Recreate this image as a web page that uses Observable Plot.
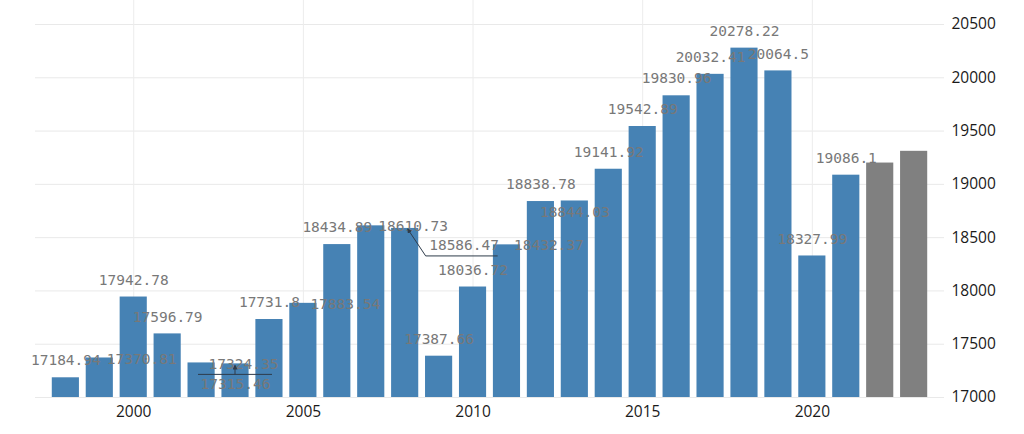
<!DOCTYPE html>
<html>
<head>
<meta charset="utf-8">
<script src="https://cdn.jsdelivr.net/npm/d3@7"></script>
<script src="https://cdn.jsdelivr.net/npm/@observablehq/plot@0.6"></script>
<style>
  html, body { margin: 0; padding: 0; background: #fff; }
  #chart svg { display: block; }
</style>
</head>
<body>
<div id="chart"></div>
<script>
const years = [1998, 1999, 2000, 2001, 2002, 2003, 2004, 2005, 2006, 2007, 2008, 2009, 2010,
  2011, 2012, 2013, 2014, 2015, 2016, 2017, 2018, 2019, 2020, 2021, 2022, 2023];
const values = [17184.94, 17370.81, 17942.78, 17596.79, 17324.35, 17315.46, 17731.8, 17883.54,
  18434.89, 18610.73, 18586.47, 17387.66, 18036.72, 18432.37, 18838.78, 18844.03, 19141.92,
  19542.89, 19830.96, 20032.41, 20278.22, 20064.5, 18327.99, 19086.1, 19200, 19310];
const forecast = [false, false, false, false, false, false, false, false, false, false, false,
  false, false, false, false, false, false, false, false, false, false, false, false, false, true, true];
// how each value label is laid out relative to its bar (as in the reference)
const labelPlacement = ["above", "right", "above", "above", "right", "under", "above", "right",
  "above", "right", "leader", "above", "above", "right", "above", "below", "above",
  "above", "above", "above", "above", "above", "above", "above", null, null];
const yTicks = [17000, 17500, 18000, 18500, 19000, 19500, 20000, 20500];
const xTickYears = [2000, 2005, 2010, 2015, 2020];

const data = years.map((y, i) => ({year: y, value: values[i], forecast: forecast[i], place: labelPlacement[i]}));
const labeled = data.filter(d => !d.forecast);
const yMin = yTicks[0];
const yMax = yTicks[yTicks.length - 1];

const labelFont = {fill: "#787878", fontSize: 14.5, fontFamily: "'DejaVu Sans Mono', monospace"};
const fmt = d => String(d.value);

const chart = Plot.plot({
  width: 1024,
  height: 434,
  marginTop: 24,
  marginBottom: 37,
  marginLeft: 45,
  marginRight: 90,
  style: {fontFamily: "'Open Sans', sans-serif", background: "#fff"},
  x: {type: "band", domain: years, padding: 0.2, round: false, label: null},
  y: {domain: [yMin, yMax], label: null},
  marks: [
    Plot.ruleY(yTicks, {stroke: "#e9e9e9", strokeWidth: 1, insetLeft: -10, insetRight: -10}),
    Plot.ruleX(xTickYears, {stroke: "#ececec", strokeWidth: 1, insetTop: -24}),
    Plot.barY(data, {
      x: "year",
      y1: () => yMin,
      y2: "value",
      fill: d => d.forecast ? "#808080" : "#4682b4"
    }),
    Plot.text(labeled.filter(d => d.place === "above"), {
      x: "year", y: "value", text: fmt, dy: -17, ...labelFont
    }),
    Plot.text(labeled.filter(d => d.place === "right"), {
      x: "year", y: "value", text: fmt, dx: 7, dy: 1, textAnchor: "start", ...labelFont
    }),
    Plot.text(labeled.filter(d => d.place === "below"), {
      x: "year", y: "value", text: fmt, dy: 11, ...labelFont
    }),
    Plot.text(labeled.filter(d => d.place === "under"), {
      x: "year", y: "value", text: fmt, dy: 20, ...labelFont
    }),
    Plot.text(labeled.filter(d => d.place === "leader"), {
      x: "year", y: "value", text: fmt, dx: 24, dy: 17, textAnchor: "start", ...labelFont
    }),
    Plot.axisY({
      ticks: yTicks,
      anchor: "right",
      tickSize: 0,
      tickPadding: 17,
      textAnchor: "start",
      fontSize: 15.5,
      fill: "#1a1a1a",
      label: null,
      tickFormat: d => String(d)
    }),
    Plot.axisX({
      ticks: xTickYears,
      anchor: "bottom",
      tickSize: 0,
      tickPadding: 8,
      fontSize: 15.5,
      fill: "#1a1a1a",
      label: null,
      tickFormat: d => String(d)
    })
  ]
});

// leader lines for the displaced labels, positioned through Plot's own scales
const sx = chart.scale("x");
const sy = chart.scale("y");
const svg = d3.select(chart);
const leaderColor = "#2e3b4a";
svg.append("defs").append("marker")
  .attr("id", "lead-arrow").attr("viewBox", "0 0 6 6").attr("refX", 5).attr("refY", 3)
  .attr("markerWidth", 5).attr("markerHeight", 5).attr("orient", "auto")
  .append("path").attr("d", "M0,0L6,3L0,6Z").attr("fill", leaderColor);
const g = svg.append("g").attr("fill", "none").attr("stroke", leaderColor).attr("stroke-width", 1);
for (const d of labeled) {
  const cx = sx.apply(d.year) + sx.bandwidth / 2;
  const top = sy.apply(d.value);
  if (d.place === "under") {
    g.append("line").attr("x1", cx - 37).attr("x2", cx + 37).attr("y1", top + 11).attr("y2", top + 11);
    g.append("line").attr("x1", cx).attr("x2", cx).attr("y1", top + 11).attr("y2", top + 2)
      .attr("marker-end", "url(#lead-arrow)");
  } else if (d.place === "leader") {
    g.append("path").attr("d", `M${cx + 93},${top + 28}L${cx + 21},${top + 28}L${cx + 3},${top + 1}`)
      .attr("marker-end", "url(#lead-arrow)");
  }
}

document.getElementById("chart").appendChild(chart);
</script>
</body>
</html>
